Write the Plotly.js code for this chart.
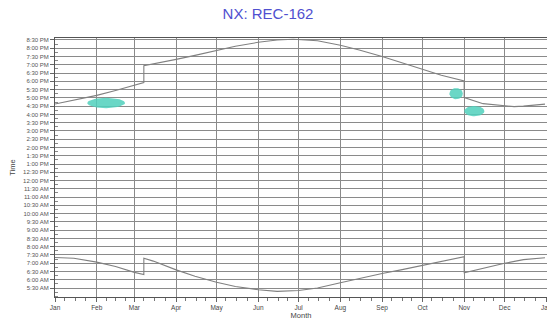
<!DOCTYPE html>
<html><head><meta charset="utf-8">
<script src="https://cdn.plot.ly/plotly-3.0.1.min.js"></script>
<style>html,body{margin:0;padding:0;background:#fff;}#chart{width:547px;height:320px;}</style>
</head><body><div id="chart"></div>
<script>
// Sunset (upper line), decimal hours local clock time; DST jumps repeated dates
const sunsetDates = ['2015-01-01','2015-01-15','2015-02-01','2015-02-15','2015-03-01','2015-03-08','2015-03-08','2015-03-15','2015-04-01','2015-04-15','2015-05-01','2015-05-15','2015-06-01','2015-06-15','2015-06-27','2015-07-15','2015-08-01','2015-08-15','2015-09-01','2015-09-15','2015-10-01','2015-10-15','2015-11-01','2015-11-01','2015-11-15','2015-12-01','2015-12-08','2015-12-15','2015-12-31'];
const sunsetHours = [16.63,16.85,17.15,17.45,17.8,17.93,18.95,19.05,19.33,19.57,19.88,20.12,20.36,20.5,20.54,20.45,20.18,19.9,19.5,19.13,18.72,18.37,18.02,17.02,16.65,16.5,16.47,16.5,16.62];
// Sunrise (lower line)
const sunriseDates = ['2015-01-01','2015-01-15','2015-02-01','2015-02-15','2015-03-01','2015-03-08','2015-03-08','2015-03-15','2015-04-01','2015-04-15','2015-05-01','2015-05-15','2015-06-01','2015-06-15','2015-07-01','2015-07-15','2015-08-01','2015-08-15','2015-09-01','2015-09-15','2015-10-01','2015-10-15','2015-11-01','2015-11-01','2015-11-15','2015-12-01','2015-12-15','2015-12-31'];
const sunriseHours = [7.35,7.3,7.07,6.8,6.45,6.32,7.3,7.13,6.6,6.22,5.85,5.6,5.4,5.3,5.35,5.5,5.82,6.08,6.38,6.6,6.88,7.12,7.4,6.42,6.7,7.0,7.22,7.33];
// Highlighted regions (ellipses)
const blobStart = ['2015-01-25','2015-10-21','2015-11-01'];
const blobEnd   = ['2015-02-22','2015-10-31','2015-11-16'];
const blobTime  = [16.69,17.26,16.2];
const blobHalf  = [0.31,0.34,0.31];
// Axis labels
const monthLabels = ['Jan','Feb','Mar','Apr','May','Jun','Jul','Aug','Sep','Oct','Nov','Dec','Jan'];
const monthDates = ['2015-01-01','2015-02-01','2015-03-01','2015-04-01','2015-05-01','2015-06-01','2015-07-01','2015-08-01','2015-09-01','2015-10-01','2015-11-01','2015-12-01','2016-01-01'];
const timeLabels = ['5:30 AM','6:00 AM','6:30 AM','7:00 AM','7:30 AM','8:00 AM','8:30 AM','9:00 AM','9:30 AM','10:00 AM','10:30 AM','11:00 AM','11:30 AM','12:00 PM','12:30 PM','1:00 PM','1:30 PM','2:00 PM','2:30 PM','3:00 PM','3:30 PM','4:00 PM','4:30 PM','5:00 PM','5:30 PM','6:00 PM','6:30 PM','7:00 PM','7:30 PM','8:00 PM','8:30 PM'];

function labelToHours(s){
  const m = s.match(/(\d+):(\d+) (AM|PM)/);
  let h = +m[1] % 12; if (m[3]==='PM') h += 12;
  return h + (+m[2])/60;
}
const timeVals = timeLabels.map(labelToHours);

// minor x ticks: quarters of each month
const minorX = [];
for (let i=0;i<monthDates.length-1;i++){
  const a = Date.parse(monthDates[i]), b = Date.parse(monthDates[i+1]);
  for (let k=1;k<4;k++) minorX.push(new Date(a+(b-a)*k/4).toISOString().slice(0,10));
}

const traces = [];
blobStart.forEach((s,i)=>{
  const a = Date.parse(s), b = Date.parse(blobEnd[i]);
  const cx=(a+b)/2, rx=(b-a)/2;
  const xs=[], ys=[];
  for (let t=0;t<=48;t++){
    const th = 2*Math.PI*t/48;
    xs.push(new Date(cx+rx*Math.cos(th)).toISOString());
    ys.push(blobTime[i]+blobHalf[i]*Math.sin(th));
  }
  traces.push({x:xs,y:ys,type:'scatter',mode:'lines',fill:'toself',
    fillcolor:'rgba(80,208,188,0.85)',line:{width:0},hoverinfo:'skip',showlegend:false});
});
traces.push({x:sunsetDates,y:sunsetHours,type:'scatter',mode:'lines',line:{color:'#808080',width:1.1},showlegend:false});
traces.push({x:sunriseDates,y:sunriseHours,type:'scatter',mode:'lines',line:{color:'#808080',width:1.1},showlegend:false});

const layout = {
  width:547,height:320,
  margin:{l:55,r:0,t:38,b:23},
  paper_bgcolor:'#fff',plot_bgcolor:'#fff',
  font:{family:'Liberation Sans, Arial, sans-serif',color:'#444',size:7},
  title:{text:'NX: REC-162',x:0.49,xanchor:'center',y:0.956,yanchor:'middle',
    font:{family:'Liberation Sans, Arial, sans-serif',size:15,color:'#5050d0'}},
  xaxis:{type:'date',range:['2015-01-01','2016-01-01 12:00'],
    tickmode:'array',tickvals:monthDates,ticktext:monthLabels,
    ticks:'outside',ticklen:4,tickcolor:'#666',ticklabeloverflow:'allow',
    showgrid:true,gridcolor:'#8a8a8a',gridwidth:1,
    showline:true,linecolor:'#555',mirror:true,zeroline:false,
    tickfont:{size:6.5,color:'#444'},
    minor:{tickmode:'array',tickvals:minorX,ticks:'outside',ticklen:3,tickcolor:'#777',showgrid:false},
    title:{text:'Month',standoff:0,font:{size:7.5,color:'#444'}}},
  yaxis:{range:[4.96,20.62],
    tickmode:'array',tickvals:timeVals,ticktext:timeLabels,
    ticks:'outside',ticklen:4,tickcolor:'#666',
    showgrid:true,gridcolor:'#8a8a8a',gridwidth:1,
    showline:true,linecolor:'#555',zeroline:false,
    tickfont:{size:6,color:'#555'},
    minor:{dtick:0.25,ticks:'inside',ticklen:3,tickcolor:'#888',showgrid:false},
    title:{text:'Time',standoff:6,font:{size:7.5,color:'#444'}}},
  showlegend:false
};
Plotly.newPlot('chart',traces,layout,{displayModeBar:false,staticPlot:true});
</script></body></html>
